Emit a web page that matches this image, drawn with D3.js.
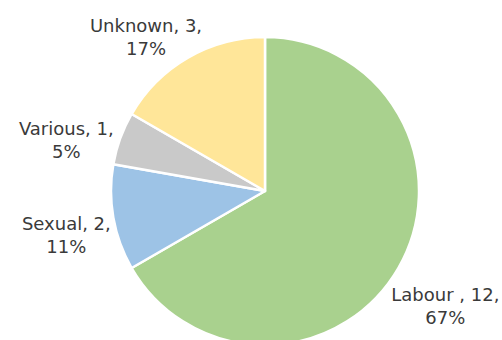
<!DOCTYPE html>
<html>
<head>
<meta charset="utf-8">
<script src="https://cdn.jsdelivr.net/npm/d3@7"></script>
<style>
  html, body { margin: 0; padding: 0; background: #ffffff; }
  svg { display: block; }
</style>
</head>
<body>
<svg id="chart" width="502" height="340"></svg>
<script>
// ---- data ----
const categories = ["Labour ", "Sexual", "Various", "Unknown"];
const values = [12, 2, 1, 3];
const percentLabels = ["67%", "11%", "5%", "17%"];
const colors = ["#A9D18E", "#9DC3E6", "#C9C9C9", "#FFE699"];

// ---- layout ----
const width = 502, height = 340;
const cx = 265, cy = 191, radius = 154;
// label nudges relative to the slice's outer mid-point (x of text centre, baseline of first line)
const labelNudge = [[47, 33], [-47, 12], [-54, -3], [-42, -26]];
const lineGap = 23;

const svg = d3.select("#chart");
const g = svg.append("g").attr("transform", `translate(${cx},${cy})`);

const pie = d3.pie().sort(null).value(d => d.value).startAngle(0).endAngle(2 * Math.PI);
const data = categories.map((c, i) => ({ name: c, value: values[i], pct: percentLabels[i], color: colors[i], i }));
const arcs = pie(data);

const arc = d3.arc().innerRadius(0).outerRadius(radius);
const edgeArc = d3.arc().innerRadius(radius).outerRadius(radius);

g.selectAll("path.slice")
  .data(arcs)
  .join("path")
  .attr("class", "slice")
  .attr("d", arc)
  .attr("fill", d => d.data.color)
  .attr("stroke", "#ffffff")
  .attr("stroke-width", 2.5)
  .attr("stroke-linejoin", "round");

const labels = g.selectAll("text.lbl")
  .data(arcs)
  .join("text")
  .attr("class", "lbl")
  .attr("text-anchor", "middle")
  .attr("font-family", "DejaVu Sans, Verdana, sans-serif")
  .attr("font-size", 18)
  .attr("fill", "#3a3a3a");

labels.each(function(d) {
  const [ax, ay] = edgeArc.centroid(d);
  const [nx, ny] = labelNudge[d.data.i];
  const x = ax + nx, y = ay + ny;
  const t = d3.select(this);
  t.append("tspan").attr("x", x).attr("y", y).text(`${d.data.name}, ${d.data.value},`);
  t.append("tspan").attr("x", x).attr("y", y + lineGap).text(d.data.pct);
});
</script>
</body>
</html>
